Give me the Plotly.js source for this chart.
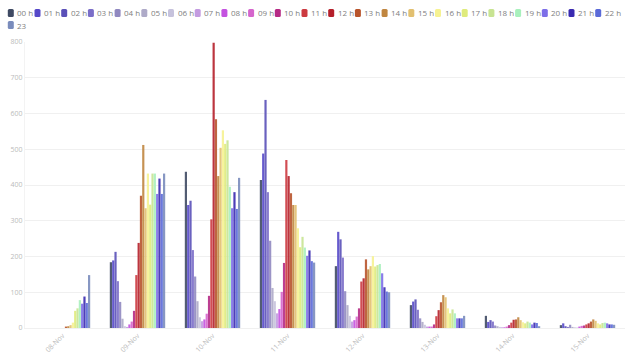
<!DOCTYPE html>
<html>
<head>
<meta charset="utf-8">
<script src="https://cdn.plot.ly/plotly-3.0.1.min.js"></script>
<style>html,body{margin:0;padding:0;background:#fff;}#chart{width:640px;height:359px;}</style>
</head>
<body>
<div id="chart"></div>
<script>
var categories = ['08-Nov','09-Nov','10-Nov','11-Nov','12-Nov','13-Nov','14-Nov','15-Nov'];
var hours = ['00 h','01 h','02 h','03 h','04 h','05 h','06 h','07 h','08 h','09 h','10 h','11 h',
             '12 h','13 h','14 h','15 h','16 h','17 h','18 h','19 h','20 h','21 h','22 h','23'];
var colors = ['#3f4a63','#5548c8','#5a50b8','#7b6ec8','#9088c0','#aeaac8','#c6c2dc','#c39be0',
              '#c452e0','#d565cc','#b52a85','#cc3a40','#b51f2a','#b8542c','#c08640','#e2c070',
              '#f6f292','#dfeb7c','#c8e492','#a8f0bc','#7c6ee8','#3a2ab0','#5a6ad8','#7a8cbc'];

// values per day, one entry per hour (00 h ... 23)
var nov08 = [0,0,0,0,0,0,0,0,0,0,0,0,0,4,5,8,15,48,55,78,68,88,70,148];
var nov09 = [184,189,213,131,73,26,5,3,10,18,48,148,238,370,512,335,432,345,432,432,375,418,375,432];
var nov10 = [437,344,356,218,144,75,30,19,24,40,90,304,798,584,425,504,553,515,525,395,335,380,333,420];
var nov11 = [414,488,638,380,244,112,75,41,53,101,182,470,425,377,344,344,279,226,255,225,202,217,187,183];
var nov12 = [173,269,248,197,103,64,34,18,22,32,55,130,139,192,164,173,201,172,176,179,153,114,102,100];
var nov13 = [64,74,80,51,27,17,9,4,4,4,10,33,50,72,92,86,55,41,52,41,27,27,27,34];
var nov14 = [34,17,22,18,7,5,3,2,2,4,8,15,23,24,30,22,16,13,18,15,10,15,14,5];
var nov15 = [8,13,5,3,9,3,2,1,4,6,7,10,13,18,24,20,13,10,14,15,13,10,10,9];
var days = [nov08,nov09,nov10,nov11,nov12,nov13,nov14,nov15];

var traces = hours.map(function(h, i){
  return {
    type: 'bar',
    name: h,
    x: categories,
    y: days.map(function(d){ return d[i]; }),
    marker: {color: colors[i], opacity: 0.9},
    hoverinfo: 'x+y+name'
  };
});

// custom compact legend (layout decoration)
var W = 640, H = 359, L = 25, R = 15, T = 42, B = 31;
var pw = W - L - R, ph = H - T - B;
function px2x(p){ return (p - L) / pw; }
function py2y(p){ return (H - B - p) / ph; }
function roundRect(x0, y0, x1, y1, r){
  // pixel coords -> paper path with rounded corners
  var X = px2x, Y = py2y;
  return 'M' + X(x0+r) + ',' + Y(y0) +
    ' L' + X(x1-r) + ',' + Y(y0) +
    ' Q' + X(x1) + ',' + Y(y0) + ' ' + X(x1) + ',' + Y(y0+r) +
    ' L' + X(x1) + ',' + Y(y1-r) +
    ' Q' + X(x1) + ',' + Y(y1) + ' ' + X(x1-r) + ',' + Y(y1) +
    ' L' + X(x0+r) + ',' + Y(y1) +
    ' Q' + X(x0) + ',' + Y(y1) + ' ' + X(x0) + ',' + Y(y1-r) +
    ' L' + X(x0) + ',' + Y(y0+r) +
    ' Q' + X(x0) + ',' + Y(y0) + ' ' + X(x0+r) + ',' + Y(y0) + ' Z';
}
var shapes = [], annotations = [];
hours.forEach(function(h, i){
  var row = i < 23 ? 0 : 1;
  var col = i < 23 ? i : 0;
  var left = 7.8 + 26.7 * col;
  var cy = row === 0 ? 13 : 25;
  shapes.push({type:'path', xref:'paper', yref:'paper', layer:'above',
    path: roundRect(left, cy-4, left+6, cy+4, 1.5),
    fillcolor:colors[i], line:{width:0}});
  annotations.push({xref:'paper', yref:'paper', x:px2x(left+7.5), y:py2y(cy),
    xanchor:'left', yanchor:'middle', showarrow:false, text:h,
    font:{family:'Open Sans, sans-serif', size:8, color:'#808080'}});
});

var layout = {
  width: W, height: H,
  margin: {l: L, r: R, t: T, b: B, pad: 0},
  paper_bgcolor: '#fff', plot_bgcolor: '#fff',
  barmode: 'group', bargap: 0.26, bargroupgap: 0.05,
  showlegend: false,
  xaxis: {type:'category', tickangle:-45, showgrid:false, zeroline:false,
    showline:true, linecolor:'#f0f0f0', ticks:'',
    tickfont:{family:'Open Sans, sans-serif', size:7, color:'#bbb'}},
  yaxis: {range:[0,800], dtick:100, showgrid:true, gridcolor:'#f0f0f0', zeroline:false,
    showline:true, linecolor:'#f3f3f3', ticks:'',
    tickfont:{family:'Open Sans, sans-serif', size:7, color:'#bbb'}},
  shapes: shapes,
  annotations: annotations
};
Plotly.newPlot('chart', traces, layout, {displayModeBar:false, staticPlot:true});
</script>
</body>
</html>
